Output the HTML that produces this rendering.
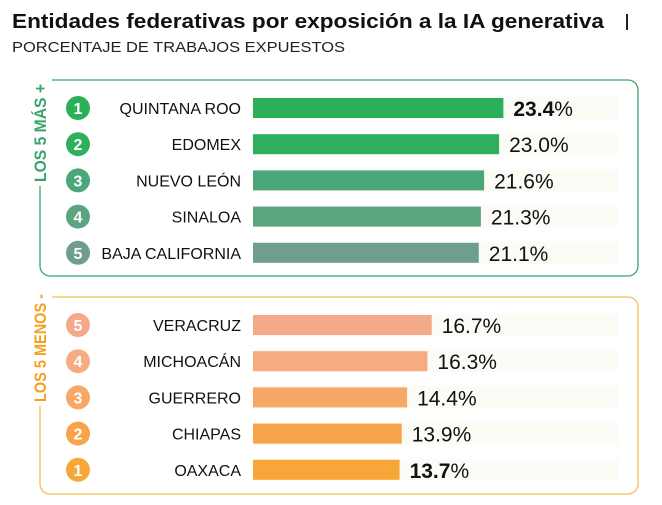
<!DOCTYPE html>
<html><head><meta charset="utf-8"><style>
body{margin:0;background:#fff;width:662px;height:505px;overflow:hidden;font-family:"Liberation Sans",sans-serif;}
</style></head><body>
<svg width="662" height="505" id="svg" style="position:absolute;left:0;top:0">
<text x="12" y="28" font-size="20" font-weight="bold" fill="#111" textLength="592" lengthAdjust="spacingAndGlyphs">Entidades federativas por exposición a la IA generativa</text>
<rect x="626" y="14" width="2" height="16" fill="#222"/>
<text x="12" y="52" font-size="15" fill="#222" textLength="333" lengthAdjust="spacingAndGlyphs">PORCENTAJE DE TRABAJOS EXPUESTOS</text>
<rect x="40" y="80" width="598" height="196" rx="10" fill="none" stroke="#3aa56a" stroke-width="1.3"/>
<rect x="40" y="297" width="598" height="197" rx="10" fill="none" stroke="#f5c050" stroke-width="1.3"/>
<rect x="28" y="76" width="24" height="110" fill="#fff"/>
<rect x="28" y="292" width="24" height="114" fill="#fff"/>
<text transform="translate(46,182) rotate(-90)" font-size="17" font-weight="bold" fill="#3aa56a" textLength="98" lengthAdjust="spacingAndGlyphs">LOS 5 MÁS +</text>
<text transform="translate(46,402) rotate(-90)" font-size="17" font-weight="bold" fill="#f5a020" textLength="108" lengthAdjust="spacingAndGlyphs">LOS 5 MENOS -</text>
<g id="rows"></g>
</svg>
<script>
const topStates=["QUINTANA ROO","EDOMEX","NUEVO LEÓN","SINALOA","BAJA CALIFORNIA"];
const topRanks=[1,2,3,4,5];
const topValues=[23.4,23.0,21.6,21.3,21.1];
const topLabels=["23.4","23.0","21.6","21.3","21.1"];
const botStates=["VERACRUZ","MICHOACÁN","GUERRERO","CHIAPAS","OAXACA"];
const botRanks=[5,4,3,2,1];
const botValues=[16.7,16.3,14.4,13.9,13.7];
const botLabels=["16.7","16.3","14.4","13.9","13.7"];
const topColors=["#2bb05a","#2fae5e","#4aa77a","#5aa57f","#6d9e8e"];
const botColors=["#f4a98a","#f6ab80","#f7a866","#f7a349","#f7a737"];
const NS="http://www.w3.org/2000/svg";
const g=document.getElementById('rows');
const x0=253,k=10.7;
function xs(v){return x0+v*k;}
function mk(t,a){const e=document.createElementNS(NS,t);for(const n in a)e.setAttribute(n,a[n]);g.appendChild(e);return e;}
function draw(states,ranks,vals,labels,colors,y0,boldIdx,prefix){
 states.forEach((s,i)=>{
  const cy=y0+i*36.2;
  const tr=mk('rect',{x:x0,y:cy-11,width:365,height:22,fill:"#fcfbf5"});
  
  
  const c=mk('circle',{cx:78,cy:cy,r:12,fill:colors[i]});
  
  
  const n=mk('text',{x:78,y:cy+6,'font-size':16,'font-weight':'bold',fill:'#fff','text-anchor':'middle'});
  n.textContent=ranks[i];
  
  
  const l=mk('text',{x:241,y:cy+6,'font-size':16,fill:'#111','text-anchor':'end'});
  l.textContent=s;
  
  
  const b=mk('rect',{x:x0,y:cy-10,width:xs(vals[i])-x0,height:20,fill:colors[i]});
  
  
  const v=mk('text',{x:xs(vals[i])+10,y:cy+8,'font-size':21,fill:'#111'});
  v.innerHTML=(i===boldIdx?'<tspan font-weight="bold">'+labels[i]+'</tspan>':labels[i])+'%';
  
  
 });
}
draw(topStates,topRanks,topValues,topLabels,topColors,108,0,'top');
draw(botStates,botRanks,botValues,botLabels,botColors,325,4,'bottom');
</script>
</body></html>
